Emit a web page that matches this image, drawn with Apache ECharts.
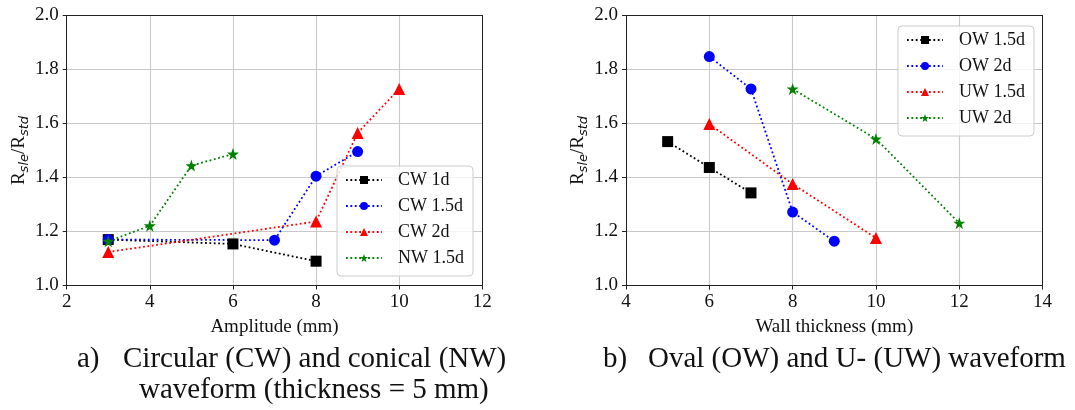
<!DOCTYPE html>
<html><head><meta charset="utf-8">
<script src="https://cdn.jsdelivr.net/npm/echarts@6/dist/echarts.min.js"></script>
<style>html,body{margin:0;padding:0;background:#fff}#c{width:1075px;height:410px}</style>
</head><body><div id="c"></div>
<script>
// ---------- data ----------
const cw1dX = [3, 6, 8];
const cw1dY = [1.170, 1.154, 1.090];
const cw15dX = [3, 7, 8, 9];
const cw15dY = [1.170, 1.168, 1.405, 1.496];
const cw2dX = [3, 8, 9, 10];
const cw2dY = [1.124, 1.237, 1.565, 1.728];
const nw15dX = [3, 4, 5, 6];
const nw15dY = [1.164, 1.221, 1.444, 1.487];

const ow15dX = [5, 6, 7];
const ow15dY = [1.533, 1.437, 1.343];
const ow2dX = [6, 7, 8, 9];
const ow2dY = [1.848, 1.728, 1.272, 1.164];
const uw15dX = [6, 8, 10];
const uw15dY = [1.598, 1.376, 1.176];
const uw2dX = [8, 10, 12];
const uw2dY = [1.728, 1.543, 1.231];

const leftNames = ['CW 1d', 'CW 1.5d', 'CW 2d', 'NW 1.5d'];
const rightNames = ['OW 1.5d', 'OW 2d', 'UW 1.5d', 'UW 2d'];
const leftXTicks = {min: 2, max: 12, interval: 2};
const rightXTicks = {min: 4, max: 14, interval: 2};
const yTicks = {min: 1.0, max: 2.0, interval: 0.2};
const xNameLeft = 'Amplitude (mm)';
const xNameRight = 'Wall thickness (mm)';
const captionA1 = 'a)';
const captionA2 = 'Circular (CW) and conical (NW)';
const captionA3 = 'waveform (thickness = 5 mm)';
const captionB1 = 'b)';
const captionB2 = 'Oval (OW) and U- (UW) waveform';

// ---------- styling ----------
const FONT = '"Liberation Serif", "Times New Roman", serif';
const TXT = '#111';
const AX = '#222';
const STAR = 'path://M50,2 L61.8,36 L97.6,36 L68.6,57.6 L79.4,92 L50,71 L20.6,92 L31.4,57.6 L2.4,36 L38.2,36 Z';

function zip(xs, ys) { return xs.map((x, i) => [x, ys[i]]); }

function mkX(grid, t, name, mainAxis) {
  if (!mainAxis) {
    return {type: 'value', gridIndex: grid, position: 'top', min: t.min, max: t.max, interval: t.interval,
      axisLine: {show: true, onZero: false, lineStyle: {color: AX, width: 1}},
      axisTick: {show: false}, axisLabel: {show: false}, splitLine: {show: false}, z: 5};
  }
  return {type: 'value', gridIndex: grid, position: 'bottom', min: t.min, max: t.max, interval: t.interval,
    axisLine: {show: true, onZero: false, lineStyle: {color: AX, width: 1}},
    axisTick: {show: true, length: 4, lineStyle: {color: AX}},
    axisLabel: {margin: 7, fontSize: 19, fontFamily: FONT, color: TXT},
    splitLine: {show: true, lineStyle: {color: '#c9c9c9', width: 1.1}},
    name: name, nameLocation: 'middle', nameGap: 32,
    nameTextStyle: {fontSize: 19, fontFamily: FONT, color: TXT}};
}
function mkY(grid, mainAxis) {
  if (!mainAxis) {
    return {type: 'value', gridIndex: grid, position: 'right', min: yTicks.min, max: yTicks.max, interval: yTicks.interval,
      axisLine: {show: true, onZero: false, lineStyle: {color: AX, width: 1}},
      axisTick: {show: false}, axisLabel: {show: false}, splitLine: {show: false}, z: 5};
  }
  return {type: 'value', gridIndex: grid, position: 'left', min: yTicks.min, max: yTicks.max, interval: yTicks.interval,
    axisLine: {show: true, onZero: false, lineStyle: {color: AX, width: 1}},
    axisTick: {show: true, length: 4, lineStyle: {color: AX}},
    axisLabel: {margin: 8, fontSize: 19, fontFamily: FONT, color: TXT, formatter: v => v.toFixed(1)},
    splitLine: {show: true, lineStyle: {color: '#c9c9c9', width: 1.1}},
    name: '{r|R}{s|sle}{r|/R}{s|std}', nameLocation: 'middle', nameGap: 35, nameRotate: 90,
    nameTextStyle: {rich: {
      r: {fontSize: 19, fontFamily: FONT, color: TXT, lineHeight: 24},
      s: {fontSize: 13, fontFamily: '"DejaVu Sans", sans-serif', fontStyle: 'italic', color: TXT, lineHeight: 14, verticalAlign: 'bottom'}
    }}};
}

function mkSeries(name, xs, ys, grid, color, symbol, size) {
  return {type: 'line', name: name, xAxisIndex: grid * 2, yAxisIndex: grid * 2,
    data: zip(xs, ys), symbol: symbol, symbolSize: size,
    lineStyle: {color: color, width: 1.8, type: [1.8, 2.6]},
    itemStyle: {color: color}, animation: false, z: 3};
}

function mkLegend(names, left, top) {
  return {data: names, orient: 'vertical', left: left, top: top,
    itemWidth: 36, itemHeight: 10, itemGap: 8, padding: [5, 9, 9, 8],
    backgroundColor: 'rgba(255,255,255,0.8)', borderColor: '#cccccc', borderWidth: 1, borderRadius: 4,
    textStyle: {fontFamily: FONT, fontSize: 18, color: TXT, lineHeight: 18, padding: [0, 0, 0, 11]},
    z: 10};
}

function mkTitle(text, left, top) {
  return {text: text, left: left, top: top, padding: 0,
    textStyle: {fontFamily: FONT, fontSize: 29, fontWeight: 'normal', color: TXT, lineHeight: 29}};
}

const option = {
  animation: false,
  backgroundColor: '#fff',
  title: [
    mkTitle(captionA1, 77, 345), mkTitle(captionA2, 123, 345), mkTitle(captionA3, 139, 376),
    mkTitle(captionB1, 603, 345), mkTitle(captionB2, 648, 345)
  ],
  grid: [
    {left: 66.7, top: 15.5, width: 415.6, height: 270},
    {left: 626, top: 15.5, width: 416.6, height: 270}
  ],
  xAxis: [mkX(0, leftXTicks, xNameLeft, true), mkX(0, leftXTicks, '', false),
          mkX(1, rightXTicks, xNameRight, true), mkX(1, rightXTicks, '', false)],
  yAxis: [mkY(0, true), mkY(0, false), mkY(1, true), mkY(1, false)],
  legend: [mkLegend(leftNames, 337, 166), mkLegend(rightNames, 898, 26)],
  series: [
    mkSeries(leftNames[0], cw1dX, cw1dY, 0, '#000000', 'rect', 11),
    mkSeries(leftNames[1], cw15dX, cw15dY, 0, '#0000ff', 'circle', 11),
    mkSeries(leftNames[2], cw2dX, cw2dY, 0, '#ff0000', 'triangle', 12),
    mkSeries(leftNames[3], nw15dX, nw15dY, 0, '#008000', STAR, 12),
    mkSeries(rightNames[0], ow15dX, ow15dY, 1, '#000000', 'rect', 11),
    mkSeries(rightNames[1], ow2dX, ow2dY, 1, '#0000ff', 'circle', 11),
    mkSeries(rightNames[2], uw15dX, uw15dY, 1, '#ff0000', 'triangle', 12),
    mkSeries(rightNames[3], uw2dX, uw2dY, 1, '#008000', STAR, 12)
  ]
};

const chart = echarts.init(document.getElementById('c'), null, {renderer: 'canvas'});
chart.setOption(option);
</script>
</body></html>
